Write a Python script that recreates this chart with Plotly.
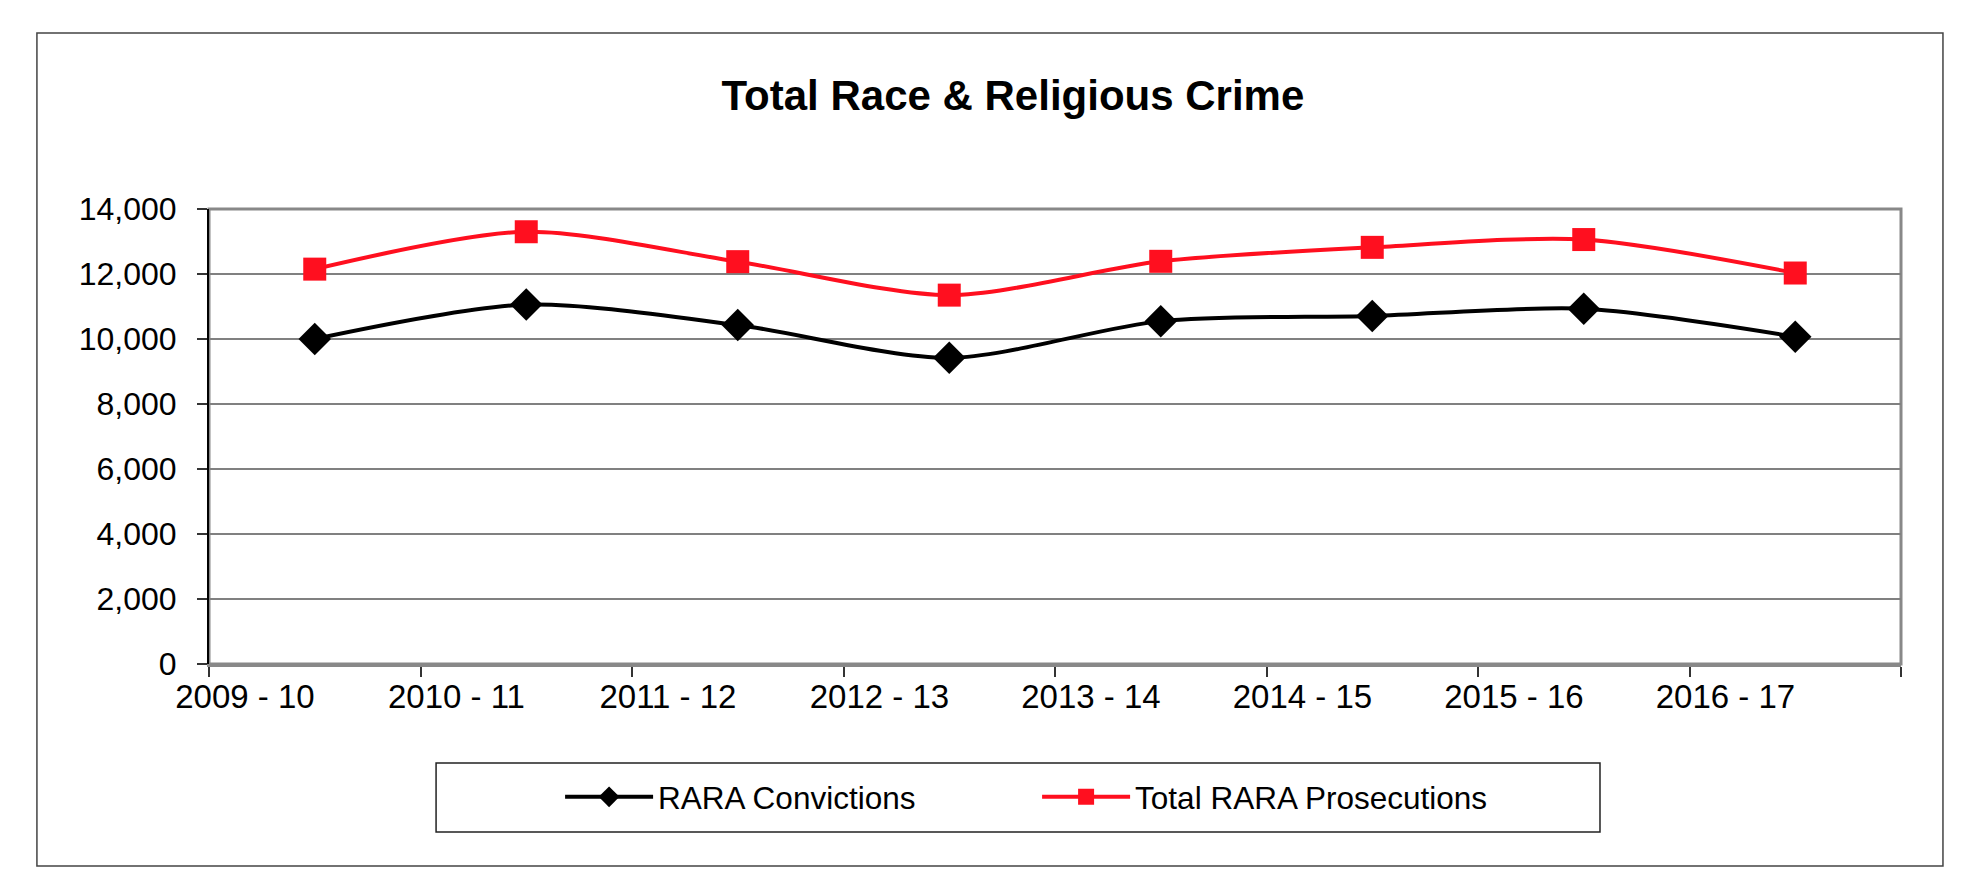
import plotly.graph_objects as go

# financial years
years = ["2009 - 10", "2010 - 11", "2011 - 12", "2012 - 13",
         "2013 - 14", "2014 - 15", "2015 - 16", "2016 - 17"]

# values
convictions = [10000, 11060, 10430, 9420, 10550, 10710, 10930, 10070]
prosecutions = [12150, 13300, 12380, 11350, 12390, 12820, 13060, 12030]

y_ticks = [0, 2000, 4000, 6000, 8000, 10000, 12000, 14000]

FONT = "Arial, Liberation Sans, sans-serif"
RED = "#FF0F1F"

fig = go.Figure()

fig.add_trace(go.Scatter(
    x=years, y=convictions, name="RARA Convictions",
    mode="lines+markers", line=dict(color="black", width=4, shape="spline", smoothing=0.8),
    marker=dict(symbol="diamond", size=25, color="black"),
))
fig.add_trace(go.Scatter(
    x=years, y=prosecutions, name="Total RARA Prosecutions",
    mode="lines+markers", line=dict(color=RED, width=4, shape="spline", smoothing=0.8),
    marker=dict(symbol="square", size=23, color=RED),
))

# invisible trace so the label axis gets drawn
label_pos = [i - 0.33 for i in range(len(years))]
fig.add_trace(go.Scatter(x=label_pos, y=[None] * len(years),
                         xaxis="x2", showlegend=False, hoverinfo="skip"))

# page has an 8px body margin, so the figure is a bit smaller than the window
fig.update_layout(
    width=1972, height=874,
    margin=dict(l=201, r=79, t=201, b=218),
    paper_bgcolor="white", plot_bgcolor="white",
    font=dict(family=FONT, color="black"),
    title=dict(text="<b>Total Race & Religious Crime</b>", font=dict(size=42, family=FONT),
               x=0.5096, xref="container", xanchor="center",
               y=0.8997, yref="container", yanchor="middle"),
    xaxis=dict(type="category", range=[-0.5, 7.5], tickson="boundaries",
               showticklabels=False, ticks="outside", ticklen=10, tickwidth=1.5,
               tickcolor="#333", showgrid=False, showline=True, linecolor="#888",
               linewidth=3, zeroline=False),
    xaxis2=dict(overlaying="x", anchor="y", side="bottom", range=[-0.5, 7.5],
                tickmode="array", tickvals=label_pos,
                ticktext=years, ticks="", showgrid=False, showline=False, zeroline=False,
                tickfont=dict(size=33, family=FONT), ticklabelstandoff=10),
    yaxis=dict(range=[0, 14000], tickvals=y_ticks, tickformat=",d",
               ticks="outside", ticklen=10, tickwidth=1.5, tickcolor="#333",
               showline=True, linecolor="black", linewidth=2,
               showgrid=True, gridcolor="#808080", gridwidth=1.5, zeroline=False,
               tickfont=dict(size=32, family=FONT), ticklabelstandoff=14),
    legend=dict(orientation="h", x=0.2075, xanchor="left", y=-0.292, yanchor="middle",
                font=dict(size=31.5, family=FONT), bgcolor="rgba(0,0,0,0)",
                itemwidth=88, entrywidth=374, entrywidthmode="pixels"),
    showlegend=True,
)

# outer chart frame, plot frame and legend box
fig.add_shape(type="rect", xref="paper", yref="paper", x0=-0.1017, x1=1.0248,
              y0=-0.444, y1=1.3868, line=dict(color="#444", width=1.5), layer="below")
fig.add_shape(type="rect", xref="paper", yref="paper", x0=0, x1=1, y0=0, y1=1,
              line=dict(color="#888", width=3), layer="below")
fig.add_shape(type="rect", xref="paper", yref="paper", x0=0.1342, x1=0.8221,
              y0=-0.369, y1=-0.2176, line=dict(color="#222", width=1.5), layer="below")

fig.write_html("out.html")
